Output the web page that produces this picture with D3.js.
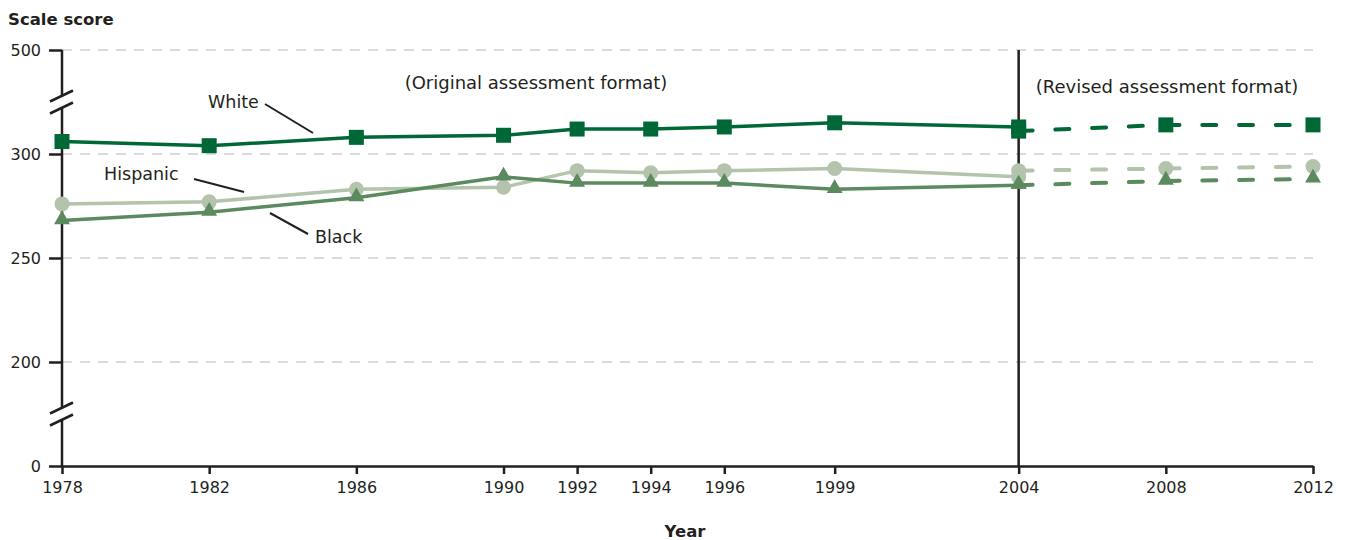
<!DOCTYPE html>
<html>
<head>
<meta charset="utf-8">
<script src="https://cdn.jsdelivr.net/npm/d3@7"></script>
<style>
  html, body { margin: 0; padding: 0; background: #fff; }
  svg { display: block; font-family: "DejaVu Sans", sans-serif; }
</style>
</head>
<body>
<svg id="chart" width="1345" height="540"></svg>
<script>
// Average scale scores by race/ethnicity
const years = [1978, 1982, 1986, 1990, 1992, 1994, 1996, 1999, 2004, 2008, 2012];
const originalYears = [1978, 1982, 1986, 1990, 1992, 1994, 1996, 1999, 2004];
const revisedYears = [2004, 2008, 2012];

const whiteOriginal = [306, 304, 308, 309, 312, 312, 313, 315, 313];
const whiteRevised = [311, 314, 314];
const hispanicOriginal = [276, 277, 283, 284, 292, 291, 292, 293, 289];
const hispanicRevised = [292, 293, 294];
const blackOriginal = [268, 272, 279, 289, 286, 286, 286, 283, 285];
const blackRevised = [285, 287, 288];

const yTicks = [0, 200, 250, 300, 500];
const gridValues = [200, 250, 300, 500];
const breakValues = [175, 325];

const svg = d3.select("#chart");
const ink = "#231f20";

const x = d3.scaleLinear().domain([1978, 2012]).range([62, 1313]);
// broken axis: 0-175 and 325-500 squeezed, 175-325 on a common slope
const y = d3.scaleLinear().domain([0, 175, 325, 500]).range([466, 414, 102, 50]);

// gridlines
svg.append("g").selectAll("line").data(gridValues).join("line")
  .attr("x1", x(1978)).attr("x2", x(2012))
  .attr("y1", d => y(d)).attr("y2", d => y(d))
  .attr("stroke", "#d0d0d0").attr("stroke-width", 1.5)
  .attr("stroke-dasharray", "10,8");

// y axis ticks + labels
const yAxis = svg.append("g").attr("transform", `translate(${x(1978)},0)`)
  .call(d3.axisLeft(y).tickValues(yTicks).tickSize(13).tickSizeOuter(0).tickPadding(8));
yAxis.select(".domain").remove();
yAxis.selectAll(".tick line").attr("stroke", ink).attr("stroke-width", 2.5);
yAxis.selectAll(".tick text").attr("fill", ink).attr("font-size", 16)
  .attr("font-family", "DejaVu Sans, sans-serif");

// y axis line interrupted at the breaks
const gap = 6;
const segs = [
  [y(500), y(325) - gap],
  [y(325) + gap, y(175) - gap],
  [y(175) + gap, y(0)]
];
svg.append("g").selectAll("line").data(segs).join("line")
  .attr("x1", x(1978)).attr("x2", x(1978))
  .attr("y1", d => d[0]).attr("y2", d => d[1])
  .attr("stroke", ink).attr("stroke-width", 2.5);

// break slashes
const brk = svg.append("g");
breakValues.forEach(v => {
  [-gap, gap].forEach(off => {
    const cy = y(v) + off;
    brk.append("line")
      .attr("x1", x(1978) - 12).attr("y1", cy + 5.5)
      .attr("x2", x(1978) + 11).attr("y2", cy - 5.5)
      .attr("stroke", ink).attr("stroke-width", 2.5);
  });
});

// x axis
const xAxis = svg.append("g").attr("transform", `translate(0,${y(0)})`)
  .call(d3.axisBottom(x).tickValues(years).tickFormat(d3.format("d")).tickSize(8).tickSizeOuter(0).tickPadding(8));
xAxis.select(".domain").attr("stroke", ink).attr("stroke-width", 2.5);
xAxis.selectAll(".tick line").attr("stroke", ink).attr("stroke-width", 2.5);
xAxis.selectAll(".tick text").attr("fill", ink).attr("font-size", 16)
  .attr("font-family", "DejaVu Sans, sans-serif");

// vertical divider between assessment formats
svg.append("line")
  .attr("x1", x(2004)).attr("x2", x(2004))
  .attr("y1", y(500)).attr("y2", y(0))
  .attr("stroke", ink).attr("stroke-width", 2.5);

const series = [
  { name: "Hispanic", color: "#b3c3ac", shape: "circle", orig: hispanicOriginal, rev: hispanicRevised },
  { name: "Black", color: "#5a8a5e", shape: "triangle", orig: blackOriginal, rev: blackRevised },
  { name: "White", color: "#006837", shape: "square", orig: whiteOriginal, rev: whiteRevised }
];

const line = d3.line().x(d => x(d[0])).y(d => y(d[1]));

function marker(g, shape, color, pts) {
  if (shape === "circle") {
    g.selectAll("circle").data(pts).join("circle")
      .attr("cx", d => x(d[0])).attr("cy", d => y(d[1])).attr("r", 7.5).attr("fill", color);
  } else if (shape === "square") {
    g.selectAll("rect").data(pts).join("rect")
      .attr("x", d => x(d[0]) - 7.5).attr("y", d => y(d[1]) - 7.5)
      .attr("width", 15).attr("height", 15).attr("fill", color);
  } else {
    const sym = d3.symbol().type(d3.symbolTriangle).size(110);
    g.selectAll("path").data(pts).join("path")
      .attr("transform", d => `translate(${x(d[0])},${y(d[1]) - 1})`)
      .attr("d", sym).attr("fill", color);
  }
}

series.forEach(s => {
  const g = svg.append("g");
  const o = originalYears.map((yr, i) => [yr, s.orig[i]]);
  const r = revisedYears.map((yr, i) => [yr, s.rev[i]]);
  g.append("path").attr("d", line(o)).attr("fill", "none")
    .attr("stroke", s.color).attr("stroke-width", 3.5);
  g.append("path").attr("d", line(r)).attr("fill", "none")
    .attr("stroke", s.color).attr("stroke-width", 4)
    .attr("stroke-dasharray", "14,22.75").attr("stroke-linecap", "round");
  marker(g.append("g"), s.shape, s.color, o);
  marker(g.append("g"), s.shape, s.color, r);
});

// series labels with leader lines
const labels = [
  { text: "White", tx: 208, ty: 108, x1: 265, y1: 104, x2: 313, y2: 133 },
  { text: "Hispanic", tx: 104, ty: 180, x1: 194, y1: 179, x2: 244, y2: 192 },
  { text: "Black", tx: 315, ty: 243, x1: 270, y1: 213, x2: 308, y2: 234 }
];
const lab = svg.append("g");
labels.forEach(l => {
  lab.append("text").attr("x", l.tx).attr("y", l.ty).attr("font-size", 17.5)
    .attr("fill", ink).text(l.text);
  lab.append("line").attr("x1", l.x1).attr("y1", l.y1).attr("x2", l.x2).attr("y2", l.y2)
    .attr("stroke", ink).attr("stroke-width", 2);
});

// format notes
svg.append("text").attr("x", 536).attr("y", 89).attr("text-anchor", "middle")
  .attr("font-size", 18).attr("fill", ink).text("(Original assessment format)");
svg.append("text").attr("x", 1167).attr("y", 93).attr("text-anchor", "middle")
  .attr("font-size", 18).attr("fill", ink).text("(Revised assessment format)");

// axis titles
svg.append("text").attr("x", 8).attr("y", 25).attr("font-size", 16.5)
  .attr("font-weight", "bold").attr("fill", ink).text("Scale score");
svg.append("text").attr("x", 685).attr("y", 537).attr("text-anchor", "middle")
  .attr("font-size", 16.5).attr("font-weight", "bold").attr("fill", ink).text("Year");
</script>
</body>
</html>
